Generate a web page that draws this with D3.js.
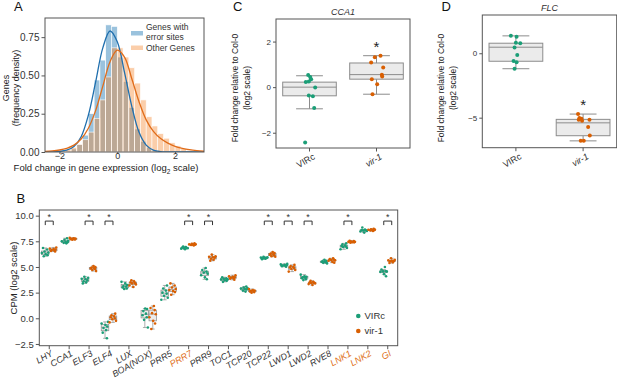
<!DOCTYPE html>
<html>
<head>
<meta charset="utf-8">
<title>Fig</title>
<style>
  body { margin: 0; background: #fff; }
  svg { font-family: "Liberation Sans", Arial, sans-serif; }
</style>
</head>
<body>
<div id="fig"></div>
<script src="https://d3js.org/d3.v7.min.js"></script>
<script>

// ---------- data : panel A ----------
const binWidthA = 0.2;
const binLeftA = [-2.0, -1.8, -1.6, -1.4, -1.2, -1.0, -0.8, -0.6, -0.4, -0.2, 0.0, 0.2,
                  0.4, 0.6, 0.8, 1.0, 1.2, 1.4, 1.6, 1.8, 2.0, 2.2, 2.4];
const histErrorSites = [0, 0, 0.02, 0.05, 0.11, 0.25, 0.47, 0.60, 0.83, 0.82, 0.62, 0.46,
                        0.29, 0.15, 0.07, 0.03, 0.01, 0, 0, 0, 0, 0, 0];
const histOtherGenes = [0.01, 0.015, 0.03, 0.05, 0.08, 0.13, 0.22, 0.34, 0.49, 0.68, 0.68, 0.62,
                        0.55, 0.45, 0.34, 0.23, 0.17, 0.12, 0.09, 0.06, 0.04, 0.025, 0.012];
const kdeX = [-2.5, -2.25, -2.0, -1.75, -1.5, -1.25, -1.0, -0.75, -0.5, -0.25, 0.0, 0.25,
              0.5, 0.75, 1.0, 1.25, 1.5, 1.75, 2.0, 2.25, 2.5, 2.75, 3.0];
const kdeErrorSites = [0.0, 0.001, 0.004, 0.012, 0.036, 0.10, 0.24, 0.456, 0.68, 0.79, 0.72, 0.52,
                       0.30, 0.13, 0.045, 0.012, 0.003, 0.001, 0, 0, 0, 0, 0];
const kdeOtherGenes = [0.004, 0.007, 0.013, 0.024, 0.045, 0.085, 0.155, 0.27, 0.43, 0.59, 0.665, 0.62,
                       0.48, 0.33, 0.21, 0.135, 0.088, 0.058, 0.037, 0.024, 0.015, 0.009, 0.005];

// ---------- data : panel B ----------
const genes = ['LHY', 'CCA1', 'ELF3', 'ELF4', 'LUX', 'BOA(NOX)', 'PRR5', 'PRR7', 'PRR9', 'TOC1',
               'TCP20', 'TCP22', 'LWD1', 'LWD2', 'RVE8', 'LNK1', 'LNK2', 'GI'];
const highlighted = ['PRR7', 'LNK1', 'LNK2', 'GI'];
const significant = ['LHY', 'ELF3', 'ELF4', 'PRR7', 'PRR9', 'TCP22', 'LWD1', 'LWD2', 'LNK1', 'GI'];
const cpmVIRc = [
  [6.85, 6.7, 6.5, 6.4, 6.35, 6.25, 6.15, 6.05],
  [7.8, 7.65, 7.55, 7.5, 7.45, 7.4, 7.35, 7.3],
  [4.05, 3.95, 3.85, 3.8, 3.7, 3.6, 3.5, 3.4],
  [-0.35, -0.5, -0.65, -0.8, -0.95, -1.15, -1.4, -1.95],
  [3.55, 3.4, 3.25, 3.15, 3.1, 3.0, 2.9, 2.85],
  [0.95, 0.9, 0.7, 0.45, 0.3, 0.1, -0.15, -0.9],
  [3.2, 2.9, 2.7, 2.5, 2.4, 2.2, 2.0, 1.8],
  [7.0, 6.95, 6.9, 6.87, 6.85, 6.82, 6.78, 6.72],
  [4.9, 4.7, 4.55, 4.45, 4.35, 4.2, 4.0, 3.8],
  [4.0, 3.9, 3.85, 3.8, 3.78, 3.7, 3.65, 3.55],
  [3.1, 3.0, 2.95, 2.9, 2.85, 2.8, 2.7, 2.6],
  [6.0, 5.95, 5.92, 5.9, 5.87, 5.85, 5.8, 5.75],
  [5.3, 5.25, 5.2, 5.17, 5.15, 5.12, 5.08, 5.02],
  [4.25, 4.1, 4.05, 4.0, 3.95, 3.9, 3.8, 3.72],
  [5.7, 5.6, 5.55, 5.52, 5.5, 5.45, 5.4, 5.35],
  [7.3, 7.2, 7.1, 7.05, 7.0, 6.95, 6.85, 6.72],
  [8.85, 8.65, 8.6, 8.57, 8.55, 8.5, 8.45, 8.35],
  [5.0, 4.75, 4.6, 4.57, 4.55, 4.52, 4.3, 4.1]
];
const cpmVir1 = [
  [6.9, 6.8, 6.75, 6.7, 6.65, 6.6, 6.55, 6.5],
  [7.85, 7.8, 7.78, 7.75, 7.72, 7.7, 7.68, 7.65],
  [5.1, 5.0, 4.95, 4.9, 4.85, 4.8, 4.7, 4.6],
  [0.45, 0.3, 0.2, 0.1, 0.0, -0.1, -0.25, -0.4],
  [3.7, 3.6, 3.5, 3.45, 3.4, 3.3, 3.2, 3.05],
  [1.2, 1.0, 0.8, 0.5, 0.4, 0.1, -0.25, -0.5, -1.05],
  [3.4, 3.2, 3.0, 2.85, 2.75, 2.65, 2.55, 2.3],
  [7.3, 7.25, 7.22, 7.2, 7.18, 7.16, 7.14, 7.1],
  [6.2, 6.05, 6.0, 5.95, 5.9, 5.8, 5.7, 5.6],
  [4.2, 4.1, 4.05, 4.0, 3.95, 3.9, 3.85, 3.75],
  [2.85, 2.75, 2.7, 2.68, 2.65, 2.6, 2.55, 2.5],
  [6.45, 6.35, 6.3, 6.25, 6.2, 6.12, 6.05, 6.0],
  [5.2, 5.1, 5.0, 4.95, 4.9, 4.8, 4.7, 4.55],
  [3.65, 3.55, 3.5, 3.47, 3.45, 3.4, 3.33, 3.25],
  [5.85, 5.78, 5.72, 5.68, 5.65, 5.6, 5.5, 5.42],
  [7.56, 7.52, 7.48, 7.46, 7.44, 7.42, 7.4, 7.36],
  [8.72, 8.68, 8.65, 8.62, 8.6, 8.58, 8.55, 8.5],
  [5.85, 5.7, 5.65, 5.6, 5.58, 5.55, 5.45, 5.38]
];
// strip jitter pattern (fraction of half box width)
const jitterB = [-0.6, 0.5, -0.2, 0.8, -0.9, 0.1, 0.6, -0.4, 0.3];

// ---------- data : panels C and D ----------
const lines = ['VIRc', 'vir-1'];
// box stats: [low whisker, q1, median, q3, high whisker]
const cca1Box = [[-0.95, -0.38, 0.0, 0.22, 0.5], [-0.31, 0.35, 0.55, 1.06, 1.38]];
const cca1VIRc = [0.53, 0.44, 0.35, 0.23, 0.25, -0.02, -0.37, -0.40, -0.92, -2.43];
const cca1VIRcJit = [-0.02, 0.01, 0.025, -0.055, -0.01, 0.085, -0.01, 0.05, 0.07, -0.065];
const cca1Vir1 = [1.31, 1.38, 1.08, 0.86, 0.54, 0.47, 0.35, 0.13, -0.31];
const cca1Vir1Jit = [-0.025, 0.06, -0.08, 0.1, 0.08, 0.085, -0.07, 0.01, -0.06];

const flcBox = [[-1.2, -0.62, 0.47, 0.78, 1.35], [-6.8, -6.4, -5.4, -5.13, -4.72]];
const flcVIRc = [1.35, 1.29, 0.82, 0.78, 0.44, -0.13, -0.6, -0.70, -1.2];
const flcVIRcJit = [-0.075, 0.01, 0, 0.065, -0.02, 0.02, -0.035, 0.01, -0.02];
const flcVir1 = [-4.72, -5.03, -5.08, -5.16, -5.16, -5.23, -5.73, -6.39, -6.8, -6.8];
const flcVir1Jit = [-0.075, -0.055, -0.025, -0.065, 0.095, -0.015, 0.075, 0.1, -0.035, 0.01];

// ---------- styles ----------
const green = '#1b9e77', orange = '#d95f02';
const frameCol = '#555', textCol = '#333', boxEdge = '#8c8c8c', boxFill = '#ebebeb';

const svg = d3.select('#fig').append('svg').attr('width', 617).attr('height', 382);

function frame(x0, y0, x1, y1) {
  svg.append('rect')
    .attr('x', x0).attr('y', y0).attr('width', x1 - x0).attr('height', y1 - y0)
    .attr('fill', 'none').attr('stroke', frameCol).attr('stroke-width', 1);
}

function styleAxis(g, fs) {
  g.attr('font-family', null).attr('font-size', null);
  g.select('.domain').remove();
  g.selectAll('.tick line').attr('stroke', frameCol);
  g.selectAll('.tick text').attr('fill', textCol).style('font-size', fs + 'px');
}

function panelLetter(t, x, y) {
  svg.append('text').attr('x', x).attr('y', y).text(t)
    .style('font-size', '13px').attr('fill', '#111');
}

function vLabel(t, x, y, fs) {
  svg.append('text').attr('transform', `translate(${x},${y}) rotate(-90)`)
    .attr('text-anchor', 'middle').attr('dominant-baseline', 'central')
    .style('font-size', fs + 'px').attr('fill', '#222').text(t);
}

// ================= Panel A =================
const xA = d3.scaleLinear().domain([-2.5, 3]).range([45, 204]);
const yA = d3.scaleLinear().domain([0, 0.875]).range([152, 18]);

const gA = svg.append('g');
gA.append('clipPath').attr('id', 'clipA').append('rect')
  .attr('x', 45).attr('y', 18).attr('width', 159).attr('height', 134);

function drawHist(vals, col, op) {
  gA.append('g').selectAll('rect').data(vals.map((v, i) => ({x0: binLeftA[i], v})))
    .join('rect')
    .attr('x', d => xA(d.x0))
    .attr('width', d => xA(d.x0 + binWidthA) - xA(d.x0))
    .attr('y', d => yA(d.v))
    .attr('height', d => yA(0) - yA(d.v))
    .attr('fill', col).attr('fill-opacity', op)
    .attr('stroke', '#fff').attr('stroke-width', 0.6);
}
drawHist(histErrorSites, '#1f77b4', 0.45);
drawHist(histOtherGenes, '#f57d1f', 0.38);

const lineA = d3.line().x(d => xA(d[0])).y(d => yA(d[1])).curve(d3.curveCatmullRom);
gA.append('path').datum(kdeX.map((x, i) => [x, kdeErrorSites[i]]))
  .attr('d', lineA).attr('fill', 'none').attr('stroke', '#1f6fae').attr('stroke-width', 1.3)
  .attr('clip-path', 'url(#clipA)');
gA.append('path').datum(kdeX.map((x, i) => [x, kdeOtherGenes[i]]))
  .attr('d', lineA).attr('fill', 'none').attr('stroke', '#e06c1a').attr('stroke-width', 1.3)
  .attr('clip-path', 'url(#clipA)');

svg.append('g').attr('transform', 'translate(45,0)')
  .call(d3.axisLeft(yA).tickValues([0, 0.25, 0.5, 0.75]).tickFormat(d3.format('.2f')).tickSize(3.5).tickPadding(2))
  .call(g => styleAxis(g, 10));
svg.append('g').attr('transform', 'translate(0,152)')
  .call(d3.axisBottom(xA).tickValues([-2, 0, 2]).tickFormat(d3.format('d')).tickSize(2).tickPadding(0))
  .call(g => styleAxis(g, 9))
  .call(g => g.selectAll('.tick text').attr('y', 1));
frame(45, 18, 204, 152);

// legend A
const legA = svg.append('g').style('font-size', '8.5px').attr('fill', '#333');
legA.append('rect').attr('x', 131).attr('y', 31).attr('width', 12).attr('height', 4.5)
  .attr('fill', '#1f77b4').attr('fill-opacity', 0.45);
legA.append('rect').attr('x', 131).attr('y', 45.5).attr('width', 12).attr('height', 4.5)
  .attr('fill', '#f57d1f').attr('fill-opacity', 0.38);
legA.append('text').attr('x', 146).attr('y', 30).text('Genes with');
legA.append('text').attr('x', 146).attr('y', 40).text('error sites');
legA.append('text').attr('x', 146).attr('y', 51).text('Other Genes');

vLabel('Genes', 5.5, 88, 9);
vLabel('(frequency density)', 15.5, 88, 9);
const xlabA = svg.append('text').attr('x', 106).attr('y', 171).attr('text-anchor', 'middle')
  .style('font-size', '9.5px').attr('fill', '#222');
xlabA.append('tspan').text('Fold change in gene expression (log');
xlabA.append('tspan').attr('dy', 2.5).style('font-size', '6.5px').text('2');
xlabA.append('tspan').attr('dy', -2.5).text(' scale)');
panelLetter('A', 14, 11);

// ================= Panel B =================
const xB = d3.scaleBand().domain(genes).range([39.3, 397.7]);
const yB = d3.scaleLinear().domain([-2.67, 10.55]).range([345.7, 210]);
const bw = xB.bandwidth();
const hueOff = [-0.2 * bw, 0.2 * bw];
const boxW = 0.38 * bw;

function boxStats(vals) {
  const s = vals.slice().sort(d3.ascending);
  const q1 = d3.quantile(s, 0.25), med = d3.quantile(s, 0.5), q3 = d3.quantile(s, 0.75);
  const iqr = q3 - q1;
  const lo = d3.min(s.filter(v => v >= q1 - 1.5 * iqr));
  const hi = d3.max(s.filter(v => v <= q3 + 1.5 * iqr));
  return [lo, q1, med, q3, hi];
}

function drawBox(g, cx, w, st, y, capW, sw) {
  const [lo, q1, med, q3, hi] = st;
  const gg = g.append('g').attr('stroke', boxEdge).attr('stroke-width', sw);
  gg.append('line').attr('x1', cx).attr('x2', cx).attr('y1', y(hi)).attr('y2', y(q3));
  gg.append('line').attr('x1', cx).attr('x2', cx).attr('y1', y(q1)).attr('y2', y(lo));
  gg.append('line').attr('x1', cx - capW / 2).attr('x2', cx + capW / 2).attr('y1', y(hi)).attr('y2', y(hi));
  gg.append('line').attr('x1', cx - capW / 2).attr('x2', cx + capW / 2).attr('y1', y(lo)).attr('y2', y(lo));
  gg.append('rect').attr('x', cx - w / 2).attr('width', w)
    .attr('y', y(q3)).attr('height', Math.max(0.5, y(q1) - y(q3))).attr('fill', boxFill);
  gg.append('line').attr('x1', cx - w / 2).attr('x2', cx + w / 2).attr('y1', y(med)).attr('y2', y(med));
}

const gB = svg.append('g');
genes.forEach((gene, i) => {
  [cpmVIRc[i], cpmVir1[i]].forEach((vals, h) => {
    const cx = xB(gene) + bw / 2 + hueOff[h];
    drawBox(gB, cx, boxW, boxStats(vals), yB, boxW / 2, 0.7);
    gB.append('g').selectAll('circle').data(vals).join('circle')
      .attr('cx', (d, k) => cx + jitterB[(k + i + h * 3) % jitterB.length] * boxW * 0.5)
      .attr('cy', d => yB(d)).attr('r', 1.3)
      .attr('fill', h === 0 ? green : orange);
  });
});

// significance brackets
const sigG = svg.append('g');
significant.forEach(gene => {
  const x0 = xB(gene) + bw / 2 + hueOff[0], x1 = xB(gene) + bw / 2 + hueOff[1];
  const yt = yB(9.47), yb = yB(9.08);
  sigG.append('path').attr('d', `M${x0},${yb}V${yt}H${x1}V${yb}`)
    .attr('fill', 'none').attr('stroke', '#333').attr('stroke-width', 1);
  sigG.append('text').attr('x', (x0 + x1) / 2).attr('y', yB(9.5) - 1)
    .attr('text-anchor', 'middle').style('font-size', '9px').attr('fill', '#333').text('*');
});

svg.append('g').attr('transform', 'translate(39.3,0)')
  .call(d3.axisLeft(yB).tickValues([-2.5, 0, 2.5, 5, 7.5, 10]).tickFormat(d3.format('.1f')).tickSize(3.5).tickPadding(2))
  .call(g => styleAxis(g, 9.5));
svg.append('g').attr('transform', 'translate(0,345.7)')
  .call(d3.axisBottom(xB).tickSize(3.5))
  .call(g => styleAxis(g, 9))
  .call(g => g.selectAll('.tick text')
    .attr('y', 0).attr('dy', '0.7em')
    .attr('transform', 'translate(1,4) rotate(-30)')
    .attr('text-anchor', 'end')
    .style('font-style', 'italic')
    .attr('fill', d => highlighted.includes(d) ? '#e07020' : textCol));
frame(39.3, 210, 397.7, 345.7);

const legB = svg.append('g').style('font-size', '9.5px');
legB.append('circle').attr('cx', 358.3).attr('cy', 316).attr('r', 2.3).attr('fill', green);
legB.append('circle').attr('cx', 358.3).attr('cy', 331).attr('r', 2.3).attr('fill', orange);
legB.append('text').attr('x', 364.5).attr('y', 319.3).attr('fill', textCol).text('VIRc');
legB.append('text').attr('x', 364.5).attr('y', 334.3).attr('fill', textCol).text('vir-1');

vLabel('CPM (log2 scale)', 13, 278, 9.5);
panelLetter('B', 16.5, 203);

// ================= Panels C & D =================
function boxPanel(opts) {
  const x = d3.scaleBand().domain(lines).range([opts.x0, opts.x1]);
  const y = d3.scaleLinear().domain(opts.domain).range([opts.y1, opts.y0]);
  const bwc = x.bandwidth();
  const g = svg.append('g');
  opts.boxes.forEach((st, i) => {
    drawBox(g, x(lines[i]) + bwc / 2, 0.8 * bwc, st, y, 0.4 * bwc, 1);
  });
  [[opts.ptsA, opts.jitA, green], [opts.ptsB, opts.jitB, orange]].forEach(([pts, jit, col], i) => {
    const cx = x(lines[i]) + bwc / 2;
    g.append('g').selectAll('circle').data(pts).join('circle')
      .attr('cx', (d, k) => cx + jit[k] * bwc)
      .attr('cy', d => y(d)).attr('r', 2).attr('fill', col);
  });
  // significance star above vir-1
  g.append('text').attr('x', x('vir-1') + bwc / 2).attr('y', y(opts.boxes[1][4]) - 4)
    .attr('text-anchor', 'middle').style('font-size', '15px').attr('fill', '#222').text('*');

  svg.append('g').attr('transform', `translate(${opts.x0},0)`)
    .call(d3.axisLeft(y).tickValues(opts.ticks).tickFormat(d3.format('d')).tickSize(3).tickPadding(2))
    .call(gg => styleAxis(gg, 8));
  svg.append('g').attr('transform', `translate(0,${opts.y1})`)
    .call(d3.axisBottom(x).tickSize(3.5))
    .call(gg => styleAxis(gg, 9))
    .call(gg => gg.selectAll('.tick text')
      .attr('y', 0).attr('dy', '0.7em')
      .attr('transform', 'translate(3,5) rotate(-30)')
      .attr('text-anchor', 'end')
      .style('font-style', d => d === 'vir-1' ? 'italic' : 'normal'));
  frame(opts.x0, opts.y0, opts.x1, opts.y1);

  svg.append('text').attr('x', (opts.x0 + opts.x1) / 2).attr('y', opts.y0 - 4)
    .attr('text-anchor', 'middle').style('font-size', '9px').style('font-style', 'italic')
    .attr('fill', '#333').text(opts.title);
  vLabel('Fold change relative to Col-0', opts.x0 - 41, 88, 8.5);
  vLabel('(log2 scale)', opts.x0 - 29.5, 88, 8.5);
}

boxPanel({x0: 276, x1: 410, y0: 19, y1: 148, domain: [-2.67, 2.99], ticks: [-2, 0, 2],
  boxes: cca1Box, ptsA: cca1VIRc, jitA: cca1VIRcJit, ptsB: cca1Vir1, jitB: cca1Vir1Jit, title: 'CCA1'});
boxPanel({x0: 482.3, x1: 616.7, y0: 15, y1: 147.7, domain: [-7.33, 2.97], ticks: [-5, 0],
  boxes: flcBox, ptsA: flcVIRc, jitA: flcVIRcJit, ptsB: flcVir1, jitB: flcVir1Jit, title: 'FLC'});

panelLetter('C', 233, 10.5);
panelLetter('D', 441.5, 10.5);

</script>
</body>
</html>
